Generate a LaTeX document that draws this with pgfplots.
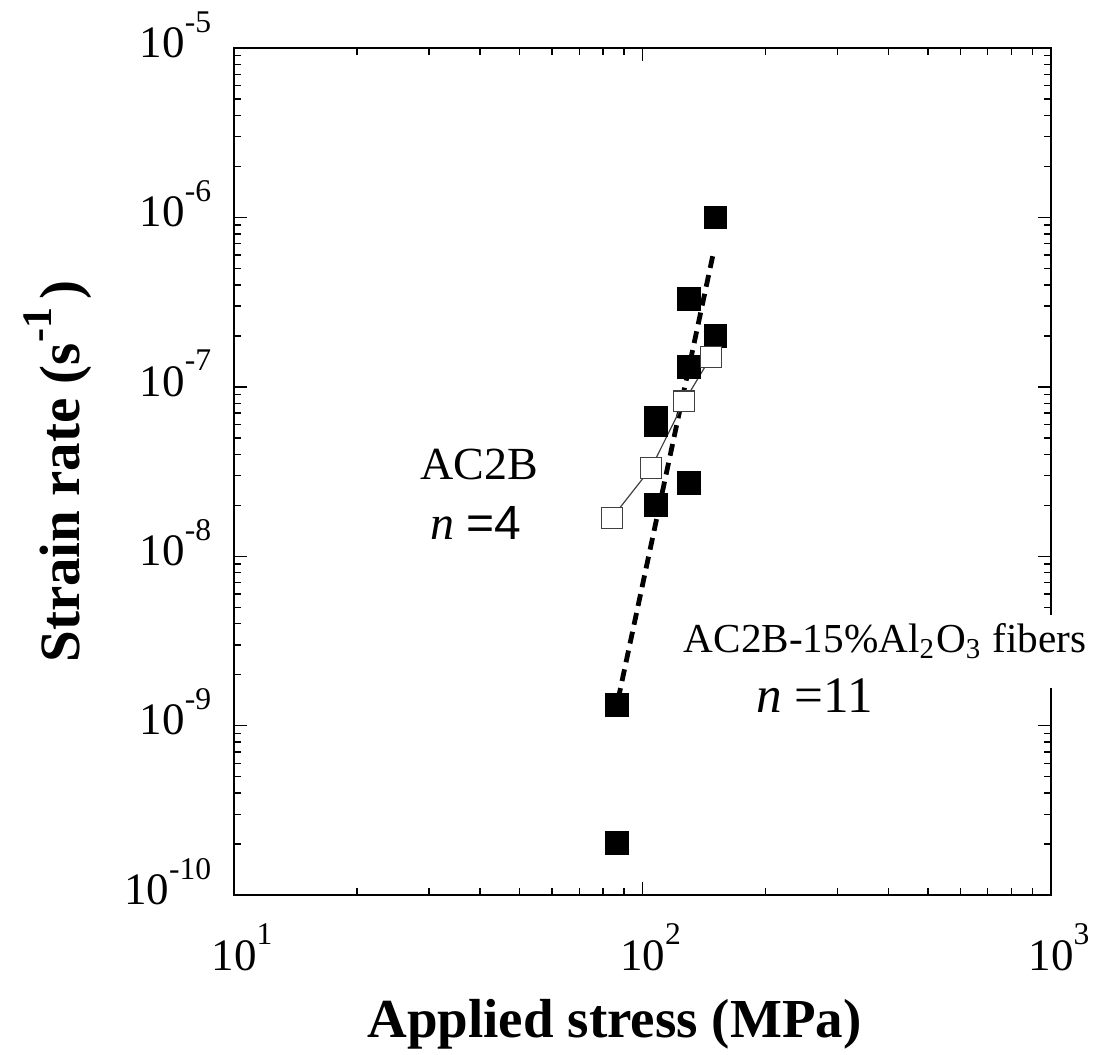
\documentclass[border=0pt]{standalone}
\usepackage{pgfplots}
\pgfplotsset{compat=1.18}
\usetikzlibrary{calc}
\usepackage{fontspec}
\setmainfont{Liberation Serif}
\setsansfont{Liberation Sans}
% tick label: "10" with a raised exponent
\newcommand{\tk}[1]{10\raisebox{6.3pt}{\fontsize{7.9}{8}\selectfont #1}}
\newcommand{\tkx}[1]{10\rlap{\raisebox{6.3pt}{\fontsize{7.9}{8}\selectfont #1}}}
\begin{document}
\begin{tikzpicture}
\begin{axis}[
    name=ax,
    xmode=log, ymode=log,
    scale only axis,
    width=204.25pt, height=211.75pt,
    xmin=10, xmax=1000,
    ymin=1e-10, ymax=1e-5,
    xtick={10,100,1000},
    xticklabels={\tkx{1},\tkx{2},\tkx{3}},
    ytick={1e-10,1e-9,1e-8,1e-7,1e-6,1e-5},
    yticklabels={\tk{-10},\tk{-9},\tk{-8},\tk{-7},\tk{-6},\tk{-5}},
    tick label style={font=\fontsize{11.25}{12}\selectfont, inner sep=0pt},
    xticklabel style={anchor=base, yshift=-18.75pt},
    yticklabel style={anchor=base east, yshift=-2.3pt, xshift=-5.5pt},
    tick align=inside,
    major tick length=3.25pt,
    minor tick length=1.75pt,
    every tick/.style={black, line width=0.35pt},
    axis line style={line width=0.4pt},
    xlabel={\textbf{Applied stress (MPa)}},
    label style={font=\fontsize{13.75}{15}\selectfont},
    xlabel style={at={($(axis description cs:0.5,0)+(-7pt,-35.5pt)$)}, anchor=base},
    clip=false,
]
\addplot[only marks, mark=square*, mark size=2.75pt, black] coordinates {
(151,1e-6)(130,3.3e-7)(151,2.0e-7)(130,1.31e-7)(108,6.6e-8)(108,5.9e-8)
(130,2.7e-8)(108,2.0e-8)(86.6,1.32e-9)(86.6,2.03e-10)
};
\addplot[black, line width=1.2pt, dash pattern=on 3pt off 1.8pt] coordinates {
(87.1,1.42e-9)(149.6,6.4e-7)
};
\addplot[black!75, line width=0.3pt, mark=square*, mark size=2.6pt,
    mark options={fill=white, draw=black!75, line width=0.3pt}] coordinates {
(84.1,1.68e-8)(105,3.32e-8)(126.5,8.2e-8)(147,1.5e-7)
};
\node[anchor=base, font=\fontsize{11.5}{12}\selectfont] at (axis cs:39.8,2.82e-8) {AC2B};
\node[anchor=base, font=\fontsize{12}{13}\selectfont] at (axis cs:39.1,1.25e-8) {\textit{n} \textsf{=4}};
\node[anchor=base, font=\fontsize{10.3}{12}\selectfont, fill=white, inner xsep=1pt,
    inner ysep=2pt, text depth=7pt] at (axis cs:392.6,2.72e-9)
    {AC2B-15\%Al\textsubscript{2}O\textsubscript{3} fibers};
\node[anchor=base, font=\fontsize{12.8}{14}\selectfont] at (axis cs:264,1.2e-9) {\textit{n} =11};
\end{axis}
% y axis label
\node[rotate=90, anchor=base, font=\fontsize{14.25}{15}\selectfont]
    at ($(ax.west)+(-38.5pt,0)$)
    {\textbf{Strain rate (s\raisebox{7pt}{\fontsize{10.5}{11}\selectfont -1}\hspace{0.15em})}};
\pgfresetboundingbox
\path[use as bounding box] (-58.5pt,-39.75pt) rectangle (215.75pt,223.75pt);
\end{tikzpicture}
\end{document}
